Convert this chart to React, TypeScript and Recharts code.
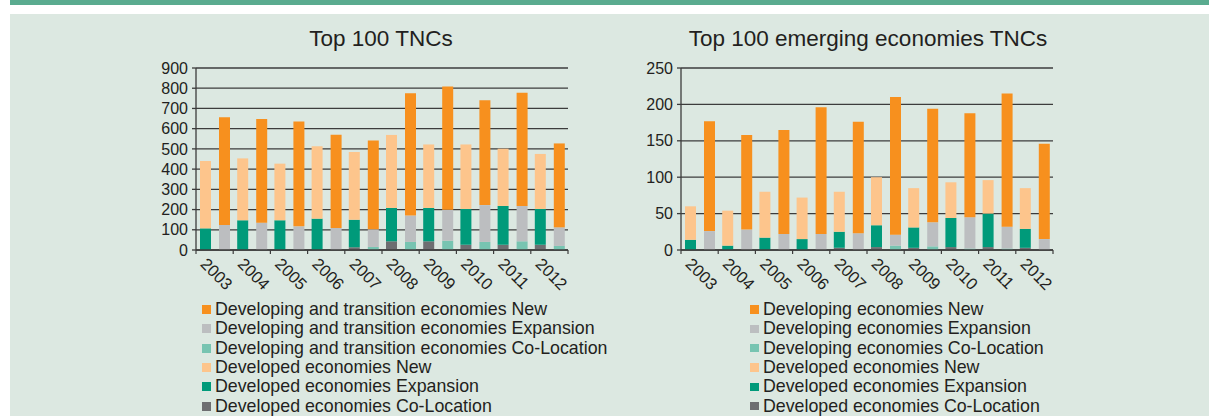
import React from 'react';
import { BarChart, Bar, XAxis, YAxis, CartesianGrid } from 'recharts';

const YEARS = ['2003', '2004', '2005', '2006', '2007', '2008', '2009', '2010', '2011', '2012'];

// Top 100 TNCs
const TNC_DEV_COL = [0, 0, 0, 0, 13, 43, 43, 26, 26, 26];
const TNC_DEV_EXP = [107, 147, 147, 155, 137, 165, 165, 177, 192, 177];
const TNC_DEV_NEW = [333, 306, 280, 358, 335, 361, 314, 319, 283, 272];
const TNC_DVG_COL = [0, 0, 0, 0, 15, 40, 46, 40, 43, 20];
const TNC_DVG_EXP = [124, 135, 117, 109, 87, 130, 153, 182, 175, 92];
const TNC_DVG_NEW = [532, 513, 518, 461, 439, 605, 610, 518, 560, 415];
const TNC_TICKS = [0, 100, 200, 300, 400, 500, 600, 700, 800, 900];

// Top 100 emerging economies TNCs
const EM_DEV_COL = [0, 0, 0, 0, 3, 4, 3, 4, 4, 3];
const EM_DEV_EXP = [14, 6, 17, 15, 22, 30, 28, 40, 46, 26];
const EM_DEV_NEW = [46, 48, 63, 57, 55, 66, 54, 49, 46, 56];
const EM_DVG_COL = [0, 0, 0, 0, 0, 6, 5, 2, 2, 0];
const EM_DVG_EXP = [26, 28, 22, 22, 23, 15, 33, 43, 30, 15];
const EM_DVG_NEW = [151, 130, 143, 174, 153, 189, 156, 143, 183, 131];
const EM_TICKS = [0, 50, 100, 150, 200, 250];

const TNC_LEGEND = [
  'Developing and transition economies New',
  'Developing and transition economies Expansion',
  'Developing and transition economies Co-Location',
  'Developed economies New',
  'Developed economies Expansion',
  'Developed economies Co-Location',
];
const EM_LEGEND = [
  'Developing economies New',
  'Developing economies Expansion',
  'Developing economies Co-Location',
  'Developed economies New',
  'Developed economies Expansion',
  'Developed economies Co-Location',
];

const C = {
  dvgNew: '#f7901e',
  dvgExp: '#bcbec0',
  dvgCol: '#77c4b1',
  devNew: '#fdc58c',
  devExp: '#009a7a',
  devCol: '#6d6e71',
};
const LEGEND_COLORS = [C.dvgNew, C.dvgExp, C.dvgCol, C.devNew, C.devExp, C.devCol];

const INK = '#231f20';
const LINE = '#3c3c3c';
const FONT = '"Liberation Sans", Arial, sans-serif';

const buildRows = (devCol: number[], devExp: number[], devNew: number[], dvgCol: number[], dvgExp: number[], dvgNew: number[]) =>
  YEARS.map((year, i) => ({
    year,
    devCol: devCol[i],
    devExp: devExp[i],
    devNew: devNew[i],
    dvgCol: dvgCol[i],
    dvgExp: dvgExp[i],
    dvgNew: dvgNew[i],
  }));

const tncData = buildRows(TNC_DEV_COL, TNC_DEV_EXP, TNC_DEV_NEW, TNC_DVG_COL, TNC_DVG_EXP, TNC_DVG_NEW);
const emData = buildRows(EM_DEV_COL, EM_DEV_EXP, EM_DEV_NEW, EM_DVG_COL, EM_DVG_EXP, EM_DVG_NEW);

// category labels rotated 45deg, with tick marks on the category boundaries
const YearTick = (props: any) => {
  const { x, y, payload, index, visibleTicksCount } = props;
  const half = payload && payload.offset ? payload.offset : 18.6;
  return (
    <g>
      <line x1={x - half} x2={x - half} y1={y} y2={y + 4} stroke={LINE} strokeWidth={1.2} />
      {index === visibleTicksCount - 1 && (
        <line x1={x + half} x2={x + half} y1={y} y2={y + 4} stroke={LINE} strokeWidth={1.2} />
      )}
      <text
        transform={`translate(${x - 15},${y + 15}) rotate(45)`}
        textAnchor="start"
        fontSize={16.5}
        fontFamily={FONT}
        fill={INK}
      >
        {payload.value}
      </text>
    </g>
  );
};

const StackChart = ({ data, ticks }: { data: any[]; ticks: number[] }) => (
  <BarChart
    width={478}
    height={300}
    data={data}
    margin={{ top: 68, right: 10, left: 0, bottom: 0 }}
    barSize={11}
    barGap={8}
  >
    <CartesianGrid vertical={false} stroke={LINE} strokeWidth={1.3} />
    <XAxis
      dataKey="year"
      height={50}
      interval={0}
      tickLine={false}
      tickSize={0}
      tickMargin={0}
      axisLine={{ stroke: LINE, strokeWidth: 1.3 }}
      tick={<YearTick />}
    />
    <YAxis
      width={96}
      domain={[0, ticks[ticks.length - 1]]}
      ticks={ticks}
      interval={0}
      tickSize={4}
      tickMargin={4}
      axisLine={{ stroke: LINE, strokeWidth: 1.3 }}
      tickLine={{ stroke: LINE, strokeWidth: 1.3 }}
      tick={{ fontSize: 16, fill: INK, fontFamily: FONT }}
    />
    <Bar dataKey="devCol" stackId="dev" fill={C.devCol} isAnimationActive={false} />
    <Bar dataKey="devExp" stackId="dev" fill={C.devExp} isAnimationActive={false} />
    <Bar dataKey="devNew" stackId="dev" fill={C.devNew} isAnimationActive={false} />
    <Bar dataKey="dvgCol" stackId="dvg" fill={C.dvgCol} isAnimationActive={false} />
    <Bar dataKey="dvgExp" stackId="dvg" fill={C.dvgExp} isAnimationActive={false} />
    <Bar dataKey="dvgNew" stackId="dvg" fill={C.dvgNew} isAnimationActive={false} />
  </BarChart>
);

const LegendBox = ({ items, left, swatch }: { items: string[]; left: number; swatch: number }) => (
  <div style={{ position: 'absolute', left, top: 300, fontFamily: FONT, fontSize: 17.8, color: INK }}>
    {items.map((label, i) => (
      <div key={label} style={{ display: 'flex', alignItems: 'center', height: 19.3, whiteSpace: 'nowrap' }}>
        <span
          style={{
            display: 'inline-block',
            width: swatch,
            height: swatch,
            background: LEGEND_COLORS[i],
            marginRight: 13 - swatch,
          }}
        />
        {label}
      </div>
    ))}
  </div>
);

const Title = ({ text, center }: { text: string; center: number }) => (
  <div
    style={{
      position: 'absolute',
      left: center - 250,
      width: 500,
      top: 26,
      textAlign: 'center',
      fontFamily: FONT,
      fontSize: 22.5,
      lineHeight: '26px',
      color: INK,
    }}
  >
    {text}
  </div>
);

export default function App() {
  return (
    <div style={{ position: 'fixed', left: 0, top: 0, right: 0, bottom: 0, background: '#ffffff', overflow: 'hidden' }}>
      <div style={{ position: 'absolute', left: 10, top: 0, right: 0, height: 5, background: '#5aab8f' }} />
      <div style={{ position: 'absolute', left: 10, top: 14, right: 0, bottom: 0, background: '#dce8e1' }} />
      <Title text="Top 100 TNCs" center={381} />
      <Title text="Top 100 emerging economies TNCs" center={868} />
      <div style={{ position: 'absolute', left: 100, top: 0 }}>
        <StackChart data={tncData} ticks={TNC_TICKS} />
      </div>
      <div style={{ position: 'absolute', left: 585, top: 0 }}>
        <StackChart data={emData} ticks={EM_TICKS} />
      </div>
      <LegendBox items={TNC_LEGEND} left={202} swatch={9} />
      <LegendBox items={EM_LEGEND} left={750} swatch={8.5} />
    </div>
  );
}
